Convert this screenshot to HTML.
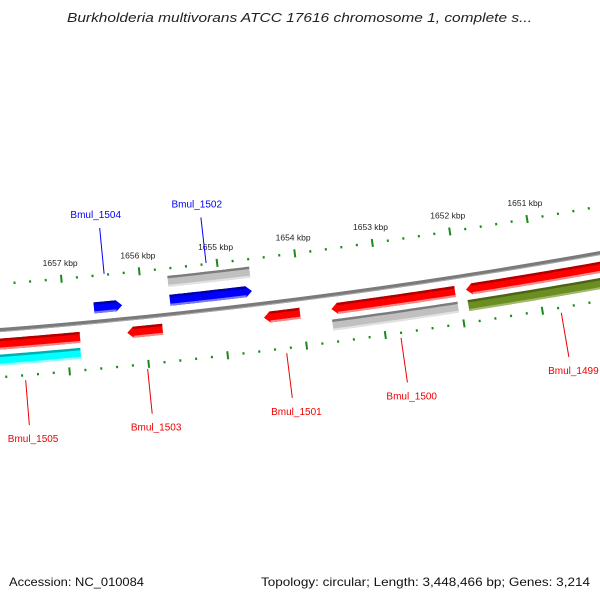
<!DOCTYPE html>
<html><head><meta charset="utf-8"><style>
html,body{margin:0;padding:0;background:#fff;}
svg{display:block;font-family:"Liberation Sans",sans-serif;}
</style></head><body>
<svg id="map" width="600" height="600" viewBox="0 0 600 600" xmlns="http://www.w3.org/2000/svg">
<rect width="600" height="600" fill="#fff"/>
<text x="67" y="22" textLength="465" lengthAdjust="spacingAndGlyphs" font-size="13" font-style="italic" fill="#222">Burkholderia multivorans ATCC 17616 chromosome 1, complete s...</text>
<g id="ticks"></g><g id="feats"></g><g id="labels"></g>
<text x="9" y="586" textLength="135" lengthAdjust="spacingAndGlyphs" font-size="12" fill="#111">Accession: NC_010084</text>
<text x="261" y="586" textLength="329" lengthAdjust="spacingAndGlyphs" font-size="12" fill="#111">Topology: circular; Length: 3,448,466 bp; Genes: 3,214</text>
</svg>
<script>
// data
const tickKbp = [1651, 1652, 1653, 1654, 1655, 1656, 1657];
const tickLabels = ["1651 kbp","1652 kbp","1653 kbp","1654 kbp","1655 kbp","1656 kbp","1657 kbp"];
const featNames = ["Bmul_1505","Bmul_1505-cog","Bmul_1504","Bmul_1503","Bmul_1502","Bmul_1502-cog","Bmul_1501","Bmul_1500","Bmul_1500-cog","Bmul_1499","Bmul_1499-cog"];
const featStart = [1658.5, 1658.5, 1656.62, 1656.23, 1655.65, 1655.65, 1654.49, 1653.63, 1653.64, 1651.91, 1651.91];
const featEnd = [1656.83, 1656.84, 1656.26, 1655.78, 1654.60, 1654.60, 1654.03, 1652.05, 1652.04, 1649.5, 1649.5];
const featRing = [1, 2, -1, 1, -1, -2, 1, 1, 2, 1, 2];
const featColor = ["red","cyan","blue","red","blue","gray","red","red","gray","red","olive"];
const featArrow = [0, 0, 1, 1, 1, 0, 1, 1, 0, 1, 0];
const labelNames = ["Bmul_1505","Bmul_1504","Bmul_1503","Bmul_1502","Bmul_1501","Bmul_1500","Bmul_1499"];
const labelKbp = [1657.56, 1656.45, 1656.02, 1655.14, 1654.26, 1652.81, 1650.77];
const labelStrand = [-1, 1, -1, 1, -1, -1, -1];

const CX=-482, CY=-5803, RB=6152, RT=6106, RO=6199;
const NS="http://www.w3.org/2000/svg";
function ang(k){return 0.0891+(1657-k)*0.01282;}
function pt(k,r){const a=ang(k);return [CX+r*Math.sin(a), CY+r*Math.cos(a)];}
function mk(tag,attrs,parent){const e=document.createElementNS(NS,tag);for(const k in attrs)e.setAttribute(k,attrs[k]);parent.appendChild(e);return e;}
const gT=document.getElementById('ticks'),gF=document.getElementById('feats'),gL=document.getElementById('labels');
function arcPts(k1,k2,r){const p=[];for(let i=0;i<=24;i++){p.push(pt(k1+(k2-k1)*i/24,r));}return p;}
function pstr(p){return p.map(q=>q[0].toFixed(2)+','+q[1].toFixed(2)).join(' ');}

// backbone
const bb=mk('polyline',{points:pstr(arcPts(1660,1648,RB)),fill:'none',stroke:'#7a7a7a','stroke-width':4},gF);


const bb2=mk('polyline',{points:pstr(arcPts(1660,1648,RB+1.5)),fill:'none',stroke:'#a8a8a8','stroke-width':1},gF);



// ticks
[RT,RO].forEach((r)=>{
  for(let k=1648;k<=1660.001;k+=0.2){
    const kk=Math.round(k*10)/10;
    const major=Math.abs(kk-Math.round(kk))<0.01;
    const L=major?4:1.2;
    const a=pt(kk,r-L),b=pt(kk,r+L);
    const t=mk('line',{x1:a[0],y1:a[1],x2:b[0],y2:b[1],stroke:'#1a8a1a','stroke-width':2},gT);
    
    
  }
});
tickKbp.forEach((k,i)=>{
  const p=pt(k,RT-13);
  const t=mk('text',{x:p[0],y:p[1],'text-anchor':'middle','font-size':8.5,fill:'#222'},gT);
  t.textContent=tickLabels[i];
  
  
});

// features
const pal={red:['#b00000','#ff0000','#ff8a8a'],blue:['#0000a8','#0000ff','#7a7aff'],gray:['#7c7c7c','#c0c0c0','#e2e2e2'],cyan:['#00b0b0','#00ffff','#9affff'],olive:['#4d6318','#6b8e23','#a3b86a']};
const ringR={1:6166,2:6182,'-1':6138,'-2':6119};
const H=11, AH=6/6150/0.01282;
featNames.forEach((n,i)=>{
  const rc=ringR[featRing[i]], ri=rc-H/2, ro=rc+H/2, c=pal[featColor[i]];
  let s=featStart[i], e=featEnd[i];
  const g=mk('g',{},gF);
  
  
  let poly;
  if(featArrow[i]&&featColor[i]==='red'){
    const s2=s-AH;
    poly=arcPts(s2,e,ri).concat(arcPts(e,s2,ro)); poly.push(pt(s,rc));
  } else if(featArrow[i]){
    const e2=e+AH;
    poly=arcPts(s,e2,ri); poly.push(pt(e,rc)); poly=poly.concat(arcPts(e2,s,ro));
  } else {
    poly=arcPts(s,e,ri).concat(arcPts(e,s,ro));
  }
  mk('polygon',{points:pstr(poly),fill:c[1]},g);
  const s3=featArrow[i]&&featColor[i]==='red'?s-AH:s, e3=featArrow[i]&&featColor[i]!=='red'?e+AH:e;
  mk('polyline',{points:pstr(arcPts(s3,e3,ri+1.2)),fill:'none',stroke:c[0],'stroke-width':2.4},g);
  mk('polyline',{points:pstr(arcPts(s3,e3,ro-1)),fill:'none',stroke:c[2],'stroke-width':2},g);
});

// gene labels
labelNames.forEach((n,i)=>{
  const st=labelStrand[i];
  const col=st>0?'#0000ff':'#ee0000';
  const r1=st>0?6105:6204, r2=st>0?6059:6249, rt=st>0?6049:6258;
  const a=pt(labelKbp[i],r1), b=pt(labelKbp[i],r2), t=pt(labelKbp[i],rt);
  const l=mk('line',{x1:a[0],y1:a[1],x2:b[0],y2:b[1],stroke:col,'stroke-width':1},gL);
  
  
  const tx=mk('text',{x:t[0]+(st>0?-3:3),y:t[1]+(st>0?0:8),'text-anchor':'middle','font-size':10,fill:col},gL);
  tx.textContent=n;
  
  
});
</script>
</body></html>
